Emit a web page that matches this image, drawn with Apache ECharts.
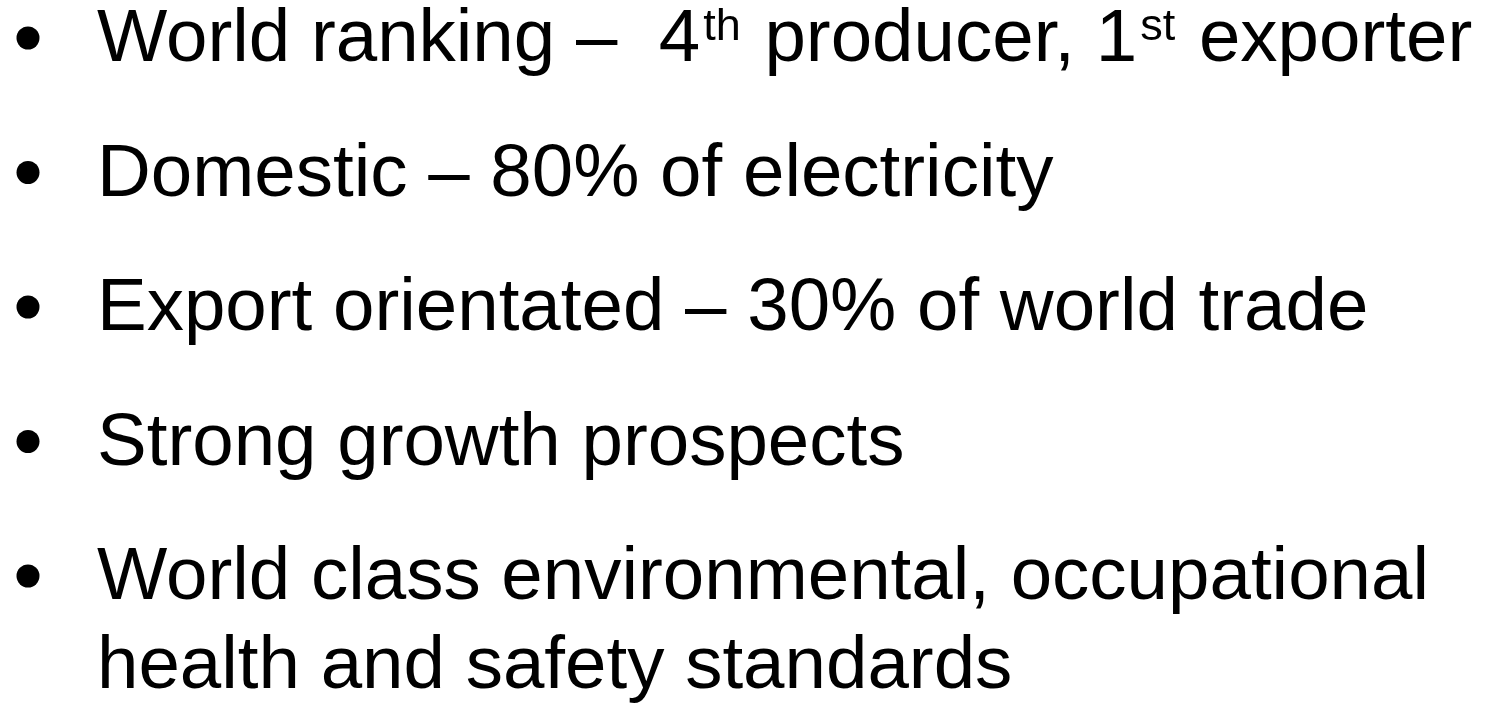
<!DOCTYPE html>
<html>
<head>
<meta charset="utf-8">
<script src="https://cdn.jsdelivr.net/npm/echarts@6/dist/echarts.min.js"></script>
<style>
  html, body { margin: 0; padding: 0; background: #ffffff; }
  #slide { width: 1487px; height: 705px; }
</style>
</head>
<body>
<div id="slide"></div>
<script>
// bullet texts, one array per bullet (extra entries wrap onto the next line)
const bullets = [
  ['World ranking \u2013  4{sup|th} producer, 1{sup|st} exporter'],
  ['Domestic \u2013 80% of electricity'],
  ['Export orientated \u2013 30% of world trade'],
  ['Strong growth prospects'],
  ['World class environmental, occupational', 'health and safety standards']
];

const fontFamily = '"Liberation Sans", Arial, sans-serif';
const fontSize = 74.5;
const supSize = 45;
const lineHeight = 89;
const firstTop = -4;
const gap = 134.5;

const myChart = echarts.init(document.getElementById('slide'));

const elements = [];
bullets.forEach((lines, i) => {
  const top = firstTop + i * gap;
  elements.push({
    type: 'circle',
    shape: {cx: 28, cy: top + 42, r: 11.5},
    style: {fill: '#000'}
  });
  elements.push({
    type: 'text',
    x: 97,
    y: top,
    style: {
      text: lines.join('\n'),
      fill: '#000',
      font: fontSize + 'px ' + fontFamily,
      lineHeight: lineHeight,
      verticalAlign: 'top',
      rich: {
        sup: {
          font: supSize + 'px ' + fontFamily,
          fill: '#000',
          height: 63,
          lineHeight: 63,
          padding: [0, 3, 0, 3],
          verticalAlign: 'top'
        }
      }
    }
  });
});

myChart.setOption({
  backgroundColor: '#ffffff',
  graphic: elements
});
</script>
</body>
</html>
